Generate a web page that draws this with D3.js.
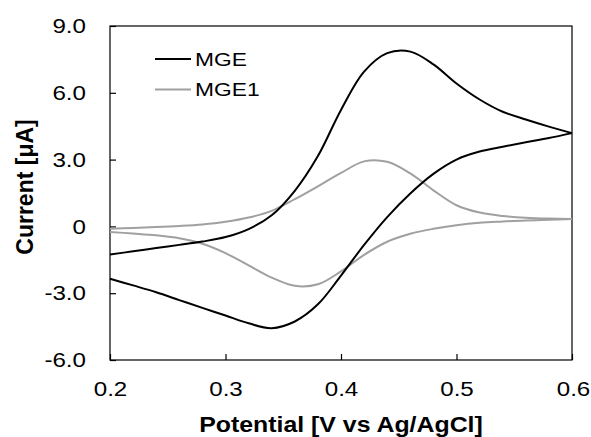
<!DOCTYPE html>
<html>
<head>
<meta charset="utf-8">
<script src="https://cdn.jsdelivr.net/npm/d3@7"></script>
<style>
  body { margin: 0; background: #fff; }
  svg { display: block; font-family: "Liberation Sans", Arial, sans-serif; }
</style>
</head>
<body>
<svg class="chart"></svg>
<script>
// potential grid (V vs Ag/AgCl)
const potential = [0.20, 0.22, 0.24, 0.26, 0.28, 0.30, 0.32, 0.34, 0.36, 0.38, 0.40,
                   0.42, 0.44, 0.46, 0.48, 0.50, 0.52, 0.54, 0.56, 0.58, 0.60];

// current [uA], anodic (forward) and cathodic (reverse) sweeps
const mgeForward  = [-1.26, -1.12, -0.97, -0.83, -0.68, -0.48, -0.12, 0.50, 1.60, 3.16, 5.23,
                     6.95, 7.78, 7.85, 7.28, 6.42, 5.70, 5.15, 4.80, 4.48, 4.19];
const mgeReverse  = [-2.35, -2.65, -2.96, -3.31, -3.66, -4.00, -4.35, -4.57, -4.27, -3.50, -2.21,
                     -0.83, 0.42, 1.48, 2.36, 3.00, 3.36, 3.58, 3.78, 3.97, 4.19];
const mge1Forward = [-0.10, -0.07, -0.03, 0.02, 0.09, 0.21, 0.40, 0.70, 1.22, 1.80, 2.40,
                     2.92, 2.90, 2.38, 1.62, 0.95, 0.62, 0.47, 0.39, 0.35, 0.33];
const mge1Reverse = [-0.25, -0.32, -0.40, -0.53, -0.78, -1.20, -1.75, -2.30, -2.67, -2.60, -2.02,
                     -1.28, -0.69, -0.33, -0.11, 0.05, 0.16, 0.22, 0.27, 0.30, 0.33];

const seriesNames = ["MGE", "MGE1"];
const seriesColors = ["#000000", "#a0a0a0"];

const xTicks = [0.2, 0.3, 0.4, 0.5, 0.6];
const xTickLabels = ["0.2", "0.3", "0.4", "0.5", "0.6"];
const yTicks = [9, 6, 3, 0, -3, -6];
const yTickLabels = ["9.0", "6.0", "3.0", "0", "-3.0", "-6.0"];

const W = 591, H = 437;
const margin = { top: 26, right: 19, bottom: 77, left: 110 },
      width = W - margin.left - margin.right,
      height = H - margin.top - margin.bottom;
const sx = 1.15; // horizontal stretch of the text

const svg = d3.select(".chart").attr("width", W).attr("height", H);
const g = svg.append("g").attr("transform", `translate(${margin.left},${margin.top})`);

const x = d3.scaleLinear().domain([0.2, 0.6]).range([0, width]);
const y = d3.scaleLinear().domain([-6, 9]).range([height, 0]);

// axes, ticks pointing inward
const xAxis = g.append("g")
    .attr("transform", `translate(0,${height})`)
    .call(d3.axisBottom(x).tickValues(xTicks).tickSize(-6).tickPadding(21)
        .tickFormat((d, i) => xTickLabels[i]));
const yAxis = g.append("g")
    .call(d3.axisLeft(y).tickValues(yTicks).tickSize(-6).tickPadding(24)
        .tickFormat((d, i) => yTickLabels[i]));

[xAxis, yAxis].forEach(a => {
  a.select(".domain").remove();
  a.selectAll("line").attr("stroke", "#000").attr("stroke-width", 1.2);
  a.selectAll("text").attr("font-size", 21).attr("fill", "#000")
    .attr("font-family", "'Liberation Sans', Arial, sans-serif");
});
yAxis.selectAll("text").attr("x", -24 / sx).attr("transform", `scale(${sx},1)`);
xAxis.selectAll("text")
    .attr("transform", (d, i) => `translate(${i === xTicks.length - 1 ? 1 : 0},0) scale(${sx},1)`);

// frame
g.append("rect")
    .attr("width", width).attr("height", height)
    .attr("fill", "none").attr("stroke", "#000").attr("stroke-width", 1.2);

// curves
const line = d3.line()
    .x(d => x(d[0]))
    .y(d => y(d[1]))
    .curve(d3.curveCatmullRom.alpha(0.5));

const sweeps = [
  [mgeForward, mgeReverse],
  [mge1Forward, mge1Reverse]
];

// draw gray first so black sits on top
[1, 0].forEach(s => {
  sweeps[s].forEach(vals => {
    g.append("path")
      .datum(potential.map((p, i) => [p, vals[i]]))
      .attr("fill", "none")
      .attr("stroke", seriesColors[s])
      .attr("stroke-width", 2)
      .attr("d", line);
  });
});

// legend
const legend = svg.append("g");
seriesNames.forEach((name, i) => {
  const ly = 59 + i * 30.5;
  legend.append("line")
    .attr("x1", 155).attr("x2", 191).attr("y1", ly).attr("y2", ly)
    .attr("stroke", seriesColors[i]).attr("stroke-width", 2);
  legend.append("text")
    .attr("transform", `translate(195,${ly}) scale(1.2,1)`)
    .attr("dy", "0.36em")
    .attr("font-size", 19)
    .text(name);
});

// axis titles
svg.append("text")
    .attr("transform", `translate(${margin.left + width / 2},432) scale(1.13,1)`)
    .attr("text-anchor", "middle")
    .attr("font-size", 22).attr("font-weight", "bold")
    .text("Potential [V vs Ag/AgCl]");

svg.append("text")
    .attr("transform", "translate(33,187) rotate(-90)")
    .attr("text-anchor", "middle")
    .attr("font-size", 23).attr("font-weight", "bold")
    .text("Current [μA]");
</script>
</body>
</html>
